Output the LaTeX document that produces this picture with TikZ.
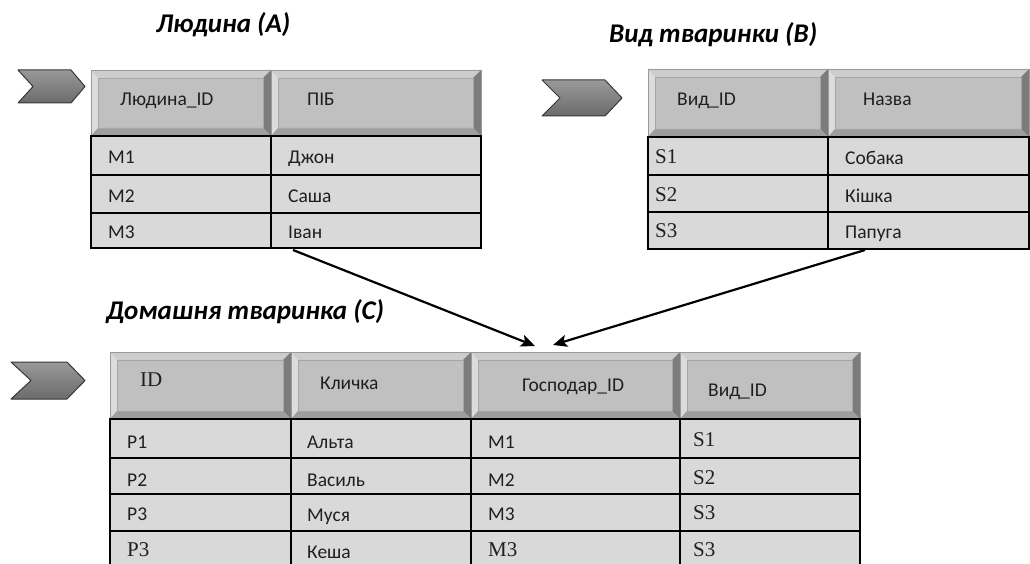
\documentclass[tikz,border=0pt]{standalone}
\usepackage{fontspec}
\setmainfont{Carlito}
\newfontfamily\tnr{Liberation Serif}
\usetikzlibrary{calc,arrows.meta}

\definecolor{dfill}{HTML}{D9D9D9}
\definecolor{hface}{HTML}{C0C0C0}
\definecolor{bvtop}{HTML}{CDCDCD}
\definecolor{bvleft}{HTML}{DCDCDC}
\definecolor{bvright}{HTML}{7C7C7C}
\definecolor{bvbot}{HTML}{9E9E9E}
\definecolor{bvline}{HTML}{9A9A9A}

\tikzset{
  dcell/.style={draw=black, line width=1.2pt, fill=dfill, anchor=north west,
    inner sep=0pt, outer sep=0pt},
  hcell/.style={draw=bvline, line width=0.8pt, fill=hface, anchor=north west,
    inner sep=0pt, outer sep=0pt,
    path picture={
      \coordinate (pNW) at (path picture bounding box.north west);
      \coordinate (pNE) at (path picture bounding box.north east);
      \coordinate (pSW) at (path picture bounding box.south west);
      \coordinate (pSE) at (path picture bounding box.south east);
      \fill[bvtop] (pNW) -- (pNE) -- ($(pNE)+(-8pt,-8pt)$) -- ($(pNW)+(7pt,-8pt)$) -- cycle;
      \fill[bvleft] (pNW) -- ($(pNW)+(7pt,-8pt)$) -- ($(pSW)+(7pt,8pt)$) -- (pSW) -- cycle;
      \fill[bvright] (pNE) -- ($(pNE)+(-8pt,-8pt)$) -- ($(pSE)+(-8pt,8pt)$) -- (pSE) -- cycle;
      \fill[bvbot] (pSW) -- ($(pSW)+(7pt,8pt)$) -- ($(pSE)+(-8pt,8pt)$) -- (pSE) -- cycle;
      \draw[black!35, line width=0.5pt] ($(pNW)+(7pt,-8pt)$) rectangle ($(pSE)+(-8pt,8pt)$);
    }},
  ctext/.style={inner sep=0pt, anchor=base west, text=black!88,
    font=\fontsize{19.5}{22}\selectfont},
  title/.style={inner sep=0pt, anchor=base west,
    font=\fontsize{27}{30}\selectfont\bfseries\itshape},
  link/.style={line width=2.2pt, -{Stealth[length=14pt,width=12pt,inset=3pt]}},
  chevron/.style={draw=black!78, line width=1pt, top color=black!40,
    bottom color=black!58, line join=round}
}

% header cell: name, x1, y1, x2, y2, text dx, text dy, text
\newcommand\hc[8]{%
  \node[hcell, minimum width={#4-#2}, minimum height={#5-#3}] (#1) at (#2,#3) {};
  \node[ctext] (#1t) at ($(#1.west)+(#6,#7)$) {#8};}
% data cell: name, x1, y1, x2, y2, text dx, text dy, text
\newcommand\dc[8]{%
  \node[dcell, minimum width={#4-#2}, minimum height={#5-#3}] (#1) at (#2,#3) {};
  \node[ctext] (#1t) at ($(#1.west)+(#6,#7)$) {#8};}
\newcommand\sr[1]{{\tnr\fontsize{21}{23}\selectfont #1}}

\begin{document}
\begin{tikzpicture}[x=1pt,y=-1pt]
\useasboundingbox (0,0) rectangle (1030,564);
\clip (0,0) rectangle (1030,564);

% titles
\node[title] (tA) at (156,33) {Людина (A)};
\node[title] (tB) at (609,43) {Вид тваринки (B)};
\node[title] (tC) at (106,319) {Домашня тваринка (C)};

% chevron markers
\draw[chevron] (18,70) -- (71,70) -- (85,86.5) -- (71,103) -- (18,103) -- (33,86.5) -- cycle;
\draw[chevron] (542,80) -- (605,80) -- (622,98) -- (605,116) -- (542,116) -- (560,98) -- cycle;
\draw[chevron] (11,362) -- (67,362) -- (85,380.5) -- (67,399) -- (11,399) -- (31,380.5) -- cycle;

% table A
\hc{ah1}{91}{70}{271}{136}{29}{3}{Людина\_ID}
\hc{ah2}{271}{70}{481}{136}{36}{3}{ПІБ}
\dc{a11}{91}{136}{271}{175}{17}{8}{M1}
\dc{a12}{271}{136}{481}{175}{17}{8}{Джон}
\dc{a21}{91}{175}{271}{213}{17}{8}{M2}
\dc{a22}{271}{175}{481}{213}{17}{8}{Саша}
\dc{a31}{91}{213}{271}{248}{17}{8}{M3}
\dc{a32}{271}{213}{481}{248}{17}{8}{Іван}

% table B
\hc{bh1}{648}{69}{828}{137}{29}{3}{Вид\_ID}
\hc{bh2}{828}{69}{1029}{137}{35}{3}{Назва}
\dc{b11}{648}{137}{828}{175}{7}{8}{\sr{S1}}
\dc{b12}{828}{137}{1029}{175}{17}{9}{Собака}
\dc{b21}{648}{175}{828}{212}{7}{8}{\sr{S2}}
\dc{b22}{828}{175}{1029}{212}{17}{9}{Кішка}
\dc{b31}{648}{212}{828}{249}{7}{7}{\sr{S3}}
\dc{b32}{828}{212}{1029}{249}{17}{8}{Папуга}

% table C
\hc{ch1}{110}{352}{291}{419}{30}{1}{\sr{ID}}
\hc{ch2}{291}{352}{471}{419}{29}{4}{Кличка}
\hc{ch3}{471}{352}{680}{419}{51}{6}{Господар\_ID}
\hc{ch4}{680}{352}{860}{419}{28}{11}{Вид\_ID}
\dc{c11}{110}{419}{291}{458}{17}{10}{P1}
\dc{c12}{291}{419}{471}{458}{16}{10}{Альта}
\dc{c13}{471}{419}{680}{458}{17}{10}{M1}
\dc{c14}{680}{419}{860}{458}{13}{8}{\sr{S1}}
\dc{c21}{110}{458}{291}{494}{17}{10}{P2}
\dc{c22}{291}{458}{471}{494}{16}{10}{Василь}
\dc{c23}{471}{458}{680}{494}{17}{10}{M2}
\dc{c24}{680}{458}{860}{494}{13}{8}{\sr{S2}}
\dc{c31}{110}{494}{291}{531}{17}{8}{P3}
\dc{c32}{291}{494}{471}{531}{16}{9}{Муся}
\dc{c33}{471}{494}{680}{531}{17}{8}{M3}
\dc{c34}{680}{494}{860}{531}{13}{7}{\sr{S3}}
\dc{c41}{110}{531}{291}{575}{17}{3}{\sr{P3}}
\dc{c42}{291}{531}{471}{575}{16}{5}{Кеша}
\dc{c43}{471}{531}{680}{575}{17}{3}{\sr{M3}}
\dc{c44}{680}{531}{860}{575}{13}{3}{\sr{S3}}

% foreign-key links into the pet table
\coordinate (srcA) at ($(a32.south west)+(22,2)$);
\coordinate (srcB) at ($(b32.south west)+(37,1)$);
\coordinate (dstA) at (535,346);
\coordinate (dstB) at (553,345);
\draw[link] (srcA) -- (dstA);
\draw[link] (srcB) -- (dstB);
\end{tikzpicture}
\end{document}
